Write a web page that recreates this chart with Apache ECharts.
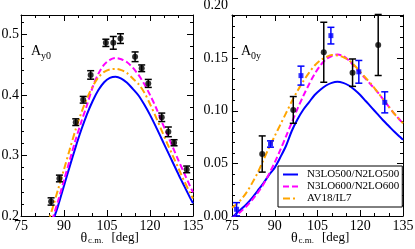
<!DOCTYPE html>
<html><head><meta charset="utf-8">
<script src="https://cdn.jsdelivr.net/npm/echarts@6/dist/echarts.min.js"></script>
<style>html,body{margin:0;padding:0;background:#fff}#c{width:415px;height:249px}</style>
</head><body><div id="c"></div>
<script>
// ---------- data ----------
const seriesNames = ['N3LO500/N2LO500', 'N3LO600/N2LO600', 'AV18/IL7'];
const xTickLabels = [75, 90, 105, 120, 135];

// Left panel: A_y0
const ay0Theta = [85.5, 88.4, 94.1, 96.7, 99.3, 104.6, 107.2, 109.7, 114.8, 117.1, 119.4, 124.1, 126.4, 128.4, 132.8];
const ay0Val   = [0.224, 0.262, 0.355, 0.392, 0.433, 0.486, 0.486, 0.493, 0.463, 0.444, 0.419, 0.363, 0.339, 0.321, 0.277];
const ay0Err   = [0.006, 0.0055, 0.0055, 0.0055, 0.007, 0.006, 0.0105, 0.008, 0.008, 0.0055, 0.0066, 0.007, 0.008, 0.005, 0.0055];

const curveThetaL = [84, 86, 88, 90, 92, 94, 96, 98, 100, 102, 104, 106, 108, 110, 112, 114, 116, 118, 120, 122, 124, 126, 128, 130, 132, 134, 135];
const ay0N3LO500 = [0.165, 0.19, 0.218, 0.25, 0.282, 0.313, 0.342, 0.368, 0.39, 0.408, 0.421, 0.428, 0.430, 0.427, 0.420, 0.410, 0.399, 0.384, 0.367, 0.348, 0.328, 0.308, 0.288, 0.268, 0.249, 0.230, 0.221];
const ay0N3LO600 = [0.165, 0.195, 0.226, 0.259, 0.292, 0.325, 0.355, 0.383, 0.413, 0.435, 0.450, 0.458, 0.461, 0.459, 0.454, 0.445, 0.433, 0.418, 0.400, 0.380, 0.357, 0.335, 0.313, 0.291, 0.270, 0.249, 0.239];
const ay0AV18    = [0.183, 0.213, 0.245, 0.277, 0.310, 0.342, 0.370, 0.394, 0.414, 0.429, 0.438, 0.442, 0.443, 0.441, 0.436, 0.427, 0.418, 0.404, 0.385, 0.364, 0.342, 0.320, 0.299, 0.278, 0.257, 0.238, 0.229];

// Right panel: A_0y
const a0yBlackTheta = [85.6, 96.5, 107.2, 117.3, 126.3];
const a0yBlackVal   = [0.0589, 0.1008, 0.1556, 0.1362, 0.1625];
const a0yBlackErr   = [0.0172, 0.0127, 0.0285, 0.013, 0.029];
const a0yBlueTheta  = [76.6, 88.5, 99.2, 109.7, 119.5, 128.6];
const a0yBlueVal    = [0.0064, 0.0684, 0.1334, 0.1714, 0.137, 0.108];
const a0yBlueErr    = [0.0063, 0.003, 0.009, 0.0079, 0.0108, 0.01];

const curveThetaR = [75, 76, 78, 80, 82, 84, 86, 88, 90, 92, 94, 96, 98, 100, 102, 104, 106, 108, 110, 112, 114, 116, 118, 120, 122, 124, 126, 128, 130, 132, 134, 135];
const a0yN3LO500 = [-0.002, 0.001, 0.006, 0.011, 0.017, 0.024, 0.031, 0.039, 0.046, 0.056, 0.067, 0.081, 0.092, 0.101, 0.108, 0.115, 0.120, 0.124, 0.1265, 0.1275, 0.1265, 0.124, 0.120, 0.115, 0.109, 0.103, 0.097, 0.091, 0.0855, 0.080, 0.075, 0.0725];
const a0yN3LO600 = [-0.003, 0.0, 0.004, 0.009, 0.015, 0.022, 0.030, 0.040, 0.051, 0.063, 0.076, 0.089, 0.102, 0.114, 0.125, 0.135, 0.143, 0.149, 0.152, 0.1535, 0.152, 0.148, 0.142, 0.136, 0.130, 0.124, 0.118, 0.111, 0.104, 0.097, 0.091, 0.088];
const a0yAV18    = [0.008, 0.010, 0.015, 0.022, 0.031, 0.041, 0.053, 0.065, 0.076, 0.087, 0.098, 0.109, 0.119, 0.128, 0.136, 0.143, 0.148, 0.151, 0.153, 0.1525, 0.151, 0.148, 0.143, 0.137, 0.131, 0.125, 0.118, 0.111, 0.104, 0.097, 0.091, 0.088];

// ---------- chart ----------
const FONT = '"Liberation Serif", "DejaVu Serif", serif';
const colors = ['#0000ff', '#ff00ff', '#ffa500'];
const dashes = ['solid', [6, 3], [7, 3, 2, 3]];
const zip = (a, b) => a.map((v, i) => [v, b[i]]);
const zip3 = (a, b, c) => a.map((v, i) => [v, b[i], c[i]]);
const black = '#000';

function xAxes(gi) {
  const common = {
    type: 'value', gridIndex: gi, min: xTickLabels[0], max: xTickLabels[xTickLabels.length - 1], interval: 15,
    axisLine: { show: true, onZero: false, lineStyle: { color: black, width: 1 } },
    axisTick: { show: true, inside: true, length: 6, lineStyle: { color: black, width: 1 } },
    minorTick: { show: true, splitNumber: 3, length: 3, lineStyle: { color: black, width: 1 } },
    splitLine: { show: false }, minorSplitLine: { show: false }
  };
  return [
    Object.assign({}, common, {
      position: 'bottom',
      axisLabel: { show: true, margin: 3, fontSize: 14, fontFamily: FONT, color: black }
    }),
    Object.assign({}, common, { position: 'top', axisLabel: { show: false } })
  ];
}

function yAxes(gi, min, max, interval, minorInterval, decimals, margin) {
  const isMajor = v => Math.abs(v / interval - Math.round(v / interval)) < 1e-6;
  const base = {
    type: 'value', gridIndex: gi, min: min, max: max,
    splitLine: { show: false }, minorTick: { show: false }
  };
  const major = Object.assign({}, base, {
    interval: interval,
    axisLine: { show: true, onZero: false, lineStyle: { color: black, width: 1 } },
    axisTick: { show: true, inside: true, length: 6, lineStyle: { color: black, width: 1 } }
  });
  const minor = Object.assign({}, base, {
    interval: minorInterval,
    axisLine: { show: false },
    axisTick: { show: true, inside: true, length: 3, lineStyle: { color: black, width: 1 } },
    axisLabel: { show: false }
  });
  return [
    Object.assign({}, major, { position: 'left', axisLabel: { show: true, margin: margin, fontSize: 14, fontFamily: FONT, color: black,
      formatter: v => isMajor(v) ? v.toFixed(decimals) : '' } }),
    Object.assign({}, minor, { position: 'left' }),
    Object.assign({}, major, { position: 'right', axisLabel: { show: false } }),
    Object.assign({}, minor, { position: 'right' })
  ];
}

function errorBars(xi, yi, data, color, z) {
  return {
    type: 'custom', xAxisIndex: xi, yAxisIndex: yi, data: data, z: z, silent: true,
    renderItem: function (params, api) {
      const x = api.value(0), y = api.value(1), e = api.value(2);
      const top = api.coord([x, y + e]);
      const bot = api.coord([x, y - e]);
      const hw = 3.5;
      const st = { stroke: color, lineWidth: 1.5 };
      return { type: 'group', children: [
        { type: 'line', shape: { x1: top[0], y1: top[1], x2: bot[0], y2: bot[1] }, style: st },
        { type: 'line', shape: { x1: top[0] - hw, y1: top[1], x2: top[0] + hw, y2: top[1] }, style: st },
        { type: 'line', shape: { x1: bot[0] - hw, y1: bot[1], x2: bot[0] + hw, y2: bot[1] }, style: st }
      ] };
    }
  };
}

function curves(xi, yi, theta, lists) {
  return lists.map((vals, k) => ({
    type: 'line', name: seriesNames[k], xAxisIndex: xi, yAxisIndex: yi,
    data: zip(theta, vals), showSymbol: false, symbol: 'none', smooth: 0.3, clip: true,
    lineStyle: { color: colors[k], width: 2, type: dashes[k] }, itemStyle: { color: colors[k] }, z: 2
  }));
}

const chart = echarts.init(document.getElementById('c'), null, { renderer: 'canvas' });
const option = {
  animation: false,
  backgroundColor: '#fff',
  grid: [
    { left: 21, top: 15, width: 172, height: 201, containLabel: false, outerBoundsMode: 'none' },
    { left: 232, top: 15, width: 171, height: 201, containLabel: false, outerBoundsMode: 'none' }
  ],
  xAxis: [].concat(xAxes(0), xAxes(1)),
  yAxis: [].concat(yAxes(0, 0.2, 0.532, 0.1, 0.02, 1, 2), yAxes(1, 0, 0.191, 0.05, 0.01, 2, 4)),
  legend: {
    data: seriesNames, orient: 'vertical', left: 278, top: 166,
    itemWidth: 15, itemHeight: 8, itemGap: 1,
    padding: [3, 3, 3, 4],
    backgroundColor: '#fff', borderColor: black, borderWidth: 1, borderRadius: 0,
    itemStyle: { opacity: 0 },
    textStyle: { fontFamily: FONT, fontSize: 11, color: black, padding: [0, 0, 0, 4] }
  },
  series: [].concat(
    curves(0, 0, curveThetaL, [ay0N3LO500, ay0N3LO600, ay0AV18]),
    [errorBars(0, 0, zip3(ay0Theta, ay0Val, ay0Err), black, 5),
     { type: 'scatter', xAxisIndex: 0, yAxisIndex: 0, data: zip(ay0Theta, ay0Val), symbol: 'circle', symbolSize: 6, itemStyle: { color: black }, z: 6 }],
    curves(2, 4, curveThetaR, [a0yN3LO500, a0yN3LO600, a0yAV18]),
    [errorBars(2, 4, zip3(a0yBlackTheta, a0yBlackVal, a0yBlackErr), black, 5),
     { type: 'scatter', xAxisIndex: 2, yAxisIndex: 4, data: zip(a0yBlackTheta, a0yBlackVal), symbol: 'circle', symbolSize: 6, itemStyle: { color: black }, z: 6 },
     errorBars(2, 4, zip3(a0yBlueTheta, a0yBlueVal, a0yBlueErr), '#0000ff', 5),
     { type: 'scatter', xAxisIndex: 2, yAxisIndex: 4, data: zip(a0yBlueTheta, a0yBlueVal), symbol: 'rect', symbolSize: 5, itemStyle: { color: '#0000ff' }, z: 6 }]
  )
};
chart.setOption(option);

// panel labels, axis titles and the top "0.20" tick label of the right panel (placed through the axis scale)
const y020 = chart.convertToPixel({ yAxisIndex: 4 }, 0.2);
const txt = (x, y, s, size, extra) => ({ type: 'text', x: x, y: y, style: Object.assign({ text: s, font: size + 'px ' + FONT, fill: black }, extra || {}) });
const titleParts = (cx) => [
  txt(cx - 27, 231, 'θ', 14),
  txt(cx - 19.5, 236, 'c.m.', 9),
  txt(cx + 4, 231, '[deg]', 13)
];
chart.setOption({
  graphic: [].concat(
    [txt(31, 44, 'A', 14), txt(41, 51, 'y0', 10), txt(241, 44, 'A', 14), txt(251, 51, '0y', 10)],
    titleParts(107.5), titleParts(318),
    [txt(228, y020, (0.2).toFixed(2), 14, { align: 'right', verticalAlign: 'middle' })]
  )
});
</script>
</body></html>
